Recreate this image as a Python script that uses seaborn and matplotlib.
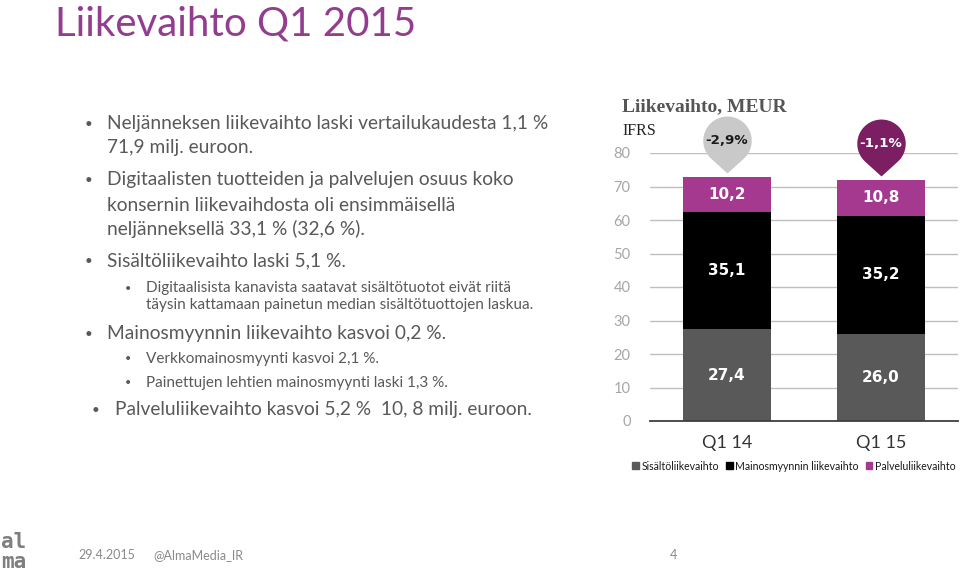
import numpy as np
import pandas as pd
import seaborn as sns
import matplotlib.pyplot as plt
from matplotlib.path import Path
from matplotlib.patches import Patch

# data
quarters = ['Q1 14', 'Q1 15']
sisalto = [27.4, 26.0]
mainos = [35.1, 35.2]
palvelu = [10.2, 10.8]
muutos = ['-2,9%', '-1,1%']
series_names = ['Sisältöliikevaihto', 'Mainosmyynnin liikevaihto', 'Palveluliikevaihto']
yticks = [0, 10, 20, 30, 40, 50, 60, 70, 80]

c_sis = '#595959'
c_mai = '#000000'
c_pal = '#A5398F'
pin_colors = ['#C9C9C9', '#7B1F62']
pin_text = ['#1a1a1a', '#ffffff']

sns.set_style('white')
plt.rcParams['font.family'] = ['Lato', 'DejaVu Sans']

df = pd.DataFrame({'q': quarters, 'sis': sisalto, 'mai': mainos, 'pal': palvelu})
df['lvl2'] = df['sis'] + df['mai']
df['tot'] = df['lvl2'] + df['pal']

fig = plt.figure(figsize=(9.6, 5.74), dpi=100)
ax = fig.add_axes([650 / 960, 153 / 574, 308 / 960, 268 / 574])

# stacked bars by overdrawing cumulative totals
for col, c in [('tot', c_pal), ('lvl2', c_mai), ('sis', c_sis)]:
    sns.barplot(data=df, x='q', y=col, color=c, width=0.57, saturation=1,
                ax=ax, zorder=3, linewidth=0)

ax.set_ylim(0, 80)
ax.set_xlim(-0.5, 1.5)
ax.set_yticks(yticks)
ax.yaxis.grid(True, color='#BFBFBF', lw=1, zorder=0)
ax.set_axisbelow(True)
for s in ['top', 'right', 'left']:
    ax.spines[s].set_visible(False)
ax.spines['bottom'].set_color('#3f3f3f')
ax.spines['bottom'].set_linewidth(1.3)
ax.spines['bottom'].set_zorder(5)
ax.tick_params(axis='y', length=0, labelsize=10.5, labelcolor='#A6A6A6', pad=14)
ax.tick_params(axis='x', length=0, labelsize=13, labelcolor='#333333', pad=10)
ax.set_xlabel('')
ax.set_ylabel('')

# segment labels
for i in range(len(df)):
    mids = [df['sis'][i] / 2, df['sis'][i] + df['mai'][i] / 2, df['lvl2'][i] + df['pal'][i] / 2]
    vals = [df['sis'][i], df['mai'][i], df['pal'][i]]
    for m, v in zip(mids, vals):
        ax.text(i, m, f'{v:.1f}'.replace('.', ','), ha='center', va='center',
                color='white', fontsize=11, fontweight='bold', zorder=6,
                family=['DejaVu Sans'])

# pin markers above bars
r, d = 1.0, 1.35
a = np.degrees(np.arccos(r / d))
ang = np.radians(np.linspace(-90 + a, 270 - a, 60))
verts = [(0, 0)] + [(r * np.cos(t), d + r * np.sin(t)) for t in ang] + [(0, 0)]
pin = Path(verts, [Path.MOVETO] + [Path.LINETO] * (len(verts) - 2) + [Path.CLOSEPOLY])
for i in range(len(df)):
    y = df['tot'][i] + 1.2
    ax.plot(i, y, marker=pin, ms=82, color=pin_colors[i], mec='none',
            clip_on=False, zorder=7)
    ax.annotate(muutos[i], (i, y), xytext=(0, 23.5), textcoords='offset points',
                ha='center', va='center', fontsize=9.6, fontweight='bold',
                color=pin_text[i], zorder=8, family=['DejaVu Sans'])

# chart titles
fig.text(622 / 960, 1 - 107 / 574, 'Liikevaihto, MEUR', fontsize=14, fontweight='bold',
         color='#555555', va='center', ha='left', family=['Liberation Serif'])
fig.text(622 / 960, 1 - 131 / 574, 'IFRS', fontsize=11.5, color='#222222',
         va='center', ha='left', family=['Liberation Serif'])

# legend
handles = [Patch(color=c) for c in [c_sis, c_mai, c_pal]]
fig.legend(handles, series_names, loc='center', bbox_to_anchor=(794 / 960, 1 - 466 / 574),
           ncol=3, frameon=False, fontsize=7.6, handlelength=0.6, handleheight=0.6,
           handletextpad=0.25, columnspacing=0.7, labelcolor='#1a1a1a',
           borderpad=0, borderaxespad=0)

# slide title
fig.text(55 / 960, 1 - 24 / 574, 'Liikevaihto Q1 2015', fontsize=29, color='#933D91',
         va='center', ha='left')

# bullet text
gray = '#595959'
big = 13.8
small = 11
lines = [
    (85, 107, 124, 'Neljänneksen liikevaihto laski vertailukaudesta 1,1 %', big, True),
    (85, 107, 148, '71,9 milj. euroon.', big, False),
    (85, 107, 180, 'Digitaalisten tuotteiden ja palvelujen osuus koko', big, True),
    (85, 107, 205, 'konsernin liikevaihdosta oli ensimmäisellä', big, False),
    (85, 107, 229, 'neljänneksellä 33,1 % (32,6 %).', big, False),
    (85, 107, 261, 'Sisältöliikevaihto laski 5,1 %.', big, True),
    (125, 146, 288, 'Digitaalisista kanavista saatavat sisältötuotot eivät riitä', small, True),
    (125, 146, 305, 'täysin kattamaan painetun median sisältötuottojen laskua.', small, False),
    (85, 107, 334, 'Mainosmyynnin liikevaihto kasvoi 0,2 %.', big, True),
    (125, 146, 359, 'Verkkomainosmyynti kasvoi 2,1 %.', small, True),
    (125, 146, 383, 'Painettujen lehtien mainosmyynti laski 1,3 %.', small, True),
    (92, 115, 410, 'Palveluliikevaihto kasvoi 5,2 %  10, 8 milj. euroon.', big, True),
]
for bx, tx, y, txt, fs, bullet in lines:
    if bullet:
        fig.text(bx / 960, 1 - y / 574, '•', fontsize=fs * 0.7, color=gray, va='center')
    fig.text(tx / 960, 1 - y / 574, txt, fontsize=fs, color=gray, va='center')

# footer
fig.text(1 / 960, 1 - 552 / 574, 'al\nma', fontsize=15, fontweight='black', color='#7f7f7f',
         va='center', linespacing=0.95, family=['DejaVu Sans Mono'])
fig.text(78 / 960, 1 - 555 / 574, '29.4.2015', fontsize=9, color='#8a8a8a', va='center')
fig.text(153 / 960, 1 - 555 / 574, '@AlmaMedia_IR', fontsize=9, color='#8a8a8a', va='center')
fig.text(670 / 960, 1 - 555 / 574, '4', fontsize=9, color='#8a8a8a', va='center')

fig.savefig('out.png', dpi=100)
